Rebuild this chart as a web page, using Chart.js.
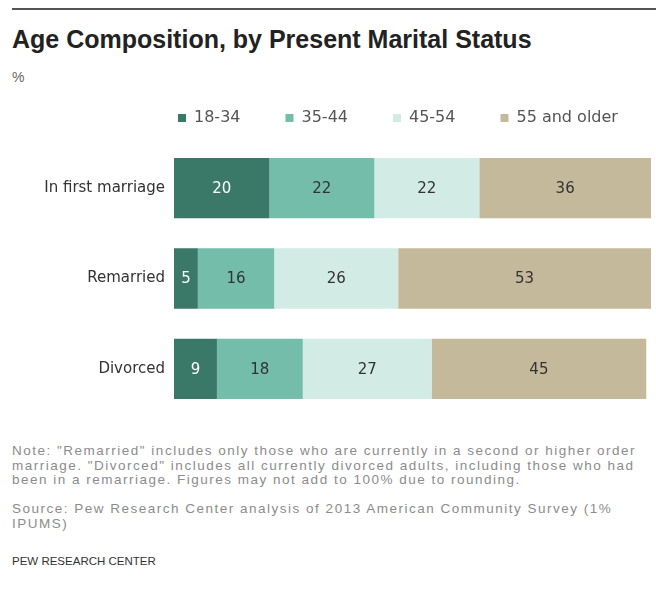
<!DOCTYPE html>
<html>
<head>
<meta charset="utf-8">
<script src="https://cdn.jsdelivr.net/npm/chart.js@4"></script>
<style>
  body { margin: 0; background: #fff; font-family: "Liberation Sans", Arial, sans-serif; }
  #wrap { position: relative; width: 656px; height: 590px; overflow: hidden; }
  #rule { position: absolute; left: 12px; right: 0; top: 8px; border-top: 2px solid #555; }
  #title { position: absolute; left: 12px; top: 27px; font-size: 25px; line-height: 25px; font-weight: bold; color: #222; }
  #unit { position: absolute; left: 12px; top: 69px; font-size: 14px; color: #666; }
  #chartBox { position: absolute; left: 0; top: 65px; width: 656px; height: 367px; }
  .note { position: absolute; left: 12px; width: 650px; font-size: 13.5px; line-height: 14.5px; letter-spacing: 1.5px; color: #8c8c8c; white-space: nowrap; }
  #note { top: 444px; }
  #source { top: 502px; }
  #credit { position: absolute; left: 12px; top: 555px; font-size: 11.5px; color: #333; }
</style>
</head>
<body>
<div id="wrap">
  <div id="rule"></div>
  <div id="title">Age Composition, by Present Marital Status</div>
  <div id="unit">%</div>
  <div id="chartBox"><canvas id="chart"></canvas></div>
  <div class="note" id="note">Note: "Remarried" includes only those who are currently in a second or higher order<br>marriage. "Divorced" includes all currently divorced adults, including those who had<br>been in a remarriage. Figures may not add to 100% due to rounding.</div>
  <div class="note" id="source">Source: Pew Research Center analysis of 2013 American Community Survey (1%<br>IPUMS)</div>
  <div id="credit">PEW RESEARCH CENTER</div>
</div>
<script>
// categories and series
const statuses = ["In first marriage", "Remarried", "Divorced"];
const ageGroups = ["18-34", "35-44", "45-54", "55 and older"];
const age18to34 = [20, 5, 9];
const age35to44 = [22, 16, 18];
const age45to54 = [22, 26, 27];
const age55plus = [36, 53, 45];

const colors = ["#3a7967", "#74bdab", "#d3ebe5", "#c5b99b"];
const labelColors = ["#ffffff", "#333333", "#333333", "#333333"];
const seriesData = [age18to34, age35to44, age45to54, age55plus];
const fontFamily = '"DejaVu Sans", Verdana, sans-serif';

// writes the value in the middle of each bar segment
const barLabels = {
  id: 'barLabels',
  afterDatasetsDraw(chart) {
    const ctx = chart.ctx;
    ctx.save();
    ctx.font = '15px ' + fontFamily;
    ctx.textAlign = 'center';
    ctx.textBaseline = 'middle';
    chart.data.datasets.forEach((ds, i) => {
      chart.getDatasetMeta(i).data.forEach((bar, j) => {
        const p = bar.getProps(['x', 'y', 'base'], true);
        ctx.fillStyle = labelColors[i];
        ctx.fillText(ds.data[j], (p.x + p.base) / 2, p.y + 1);
      });
    });
    ctx.restore();
  }
};

// legend: short box so the bars start right under it, and row starts
// a little left of the bars like in the original
const legendPlace = {
  id: 'legendPlace',
  beforeInit(chart) {
    const originalFit = chart.legend.fit;
    chart.legend.fit = function fit() {
      originalFit.bind(chart.legend)();
      this.height = 78;
    };
  },
  afterLayout(chart) {
    chart.legend.left = 133;
    chart.legend.right = 720;
  }
};

new Chart(document.getElementById('chart'), {
  type: 'bar',
  data: {
    labels: statuses,
    datasets: ageGroups.map((g, i) => ({
      label: g,
      data: seriesData[i],
      backgroundColor: colors[i],
      borderWidth: 0,
      categoryPercentage: 1,
      barPercentage: 0.667
    }))
  },
  options: {
    indexAxis: 'y',
    responsive: true,
    maintainAspectRatio: false,
    animation: false,
    layout: { padding: { left: 0, right: 5, top: 0, bottom: 10 } },
    plugins: {
      tooltip: { enabled: false },
      legend: {
        position: 'top',
        align: 'start',
        labels: {
          boxWidth: 8,
          boxHeight: 8,
          padding: 45,
          color: '#555',
          font: { size: 16, family: fontFamily }
        }
      }
    },
    scales: {
      x: {
        stacked: true,
        min: 0,
        max: 100,
        display: false
      },
      y: {
        stacked: true,
        grid: { display: false, drawTicks: false },
        border: { display: false },
        ticks: {
          color: '#333',
          padding: 9,
          font: { size: 15, family: fontFamily }
        },
        afterFit(scale) { scale.width = 174; }
      }
    }
  },
  plugins: [barLabels, legendPlace]
});
</script>
</body>
</html>
